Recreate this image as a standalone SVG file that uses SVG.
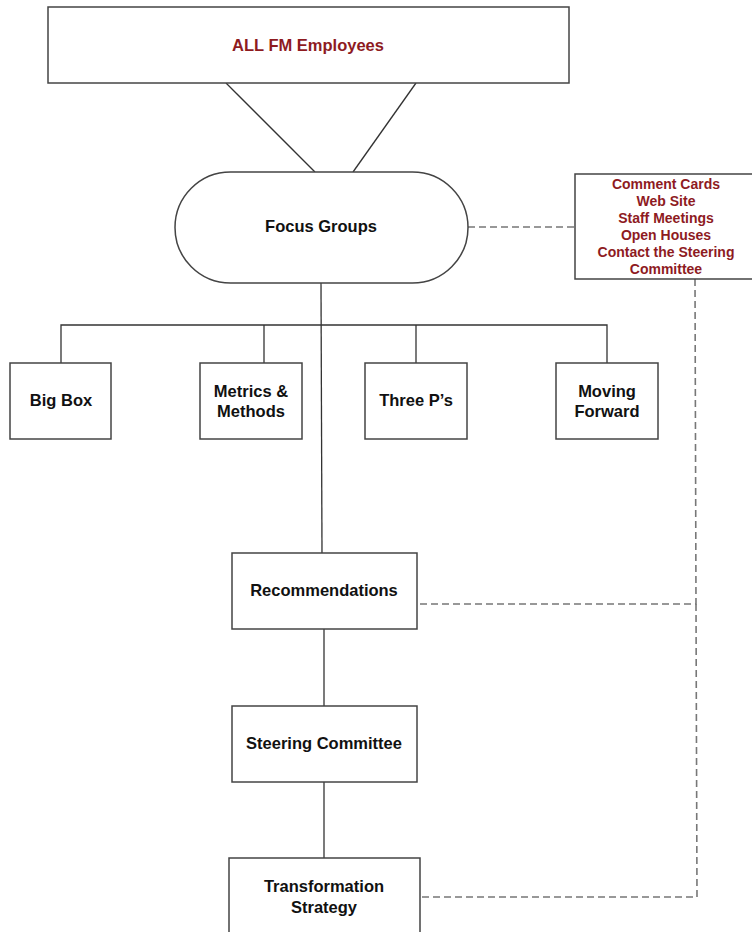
<svg xmlns="http://www.w3.org/2000/svg" width="752" height="932" viewBox="0 0 752 932">
<style>
.box{fill:#fff;stroke:#444;stroke-width:1.5}
.ln{fill:none;stroke:#333;stroke-width:1.3}
.dash{fill:none;stroke:#777;stroke-width:1.6;stroke-dasharray:7,4}
.lbl{font-family:"Liberation Sans",Arial,sans-serif;font-weight:bold;font-size:16.5px;fill:#111;text-anchor:middle}
.red{font-family:"Liberation Sans",Arial,sans-serif;font-weight:bold;font-size:14px;fill:#8e1b1f;text-anchor:middle}
</style>
<rect width="752" height="932" fill="#fff"/>
<g id="connectors">
<line class="ln" x1="226" y1="83" x2="315" y2="172"/>
<line class="ln" x1="416" y1="83" x2="353" y2="172"/>
<line class="ln" x1="321" y1="283" x2="322" y2="553"/>
<polyline class="ln" points="61,363 61,325 607,325 607,363"/>
<line class="ln" x1="264" y1="325" x2="264" y2="363"/>
<line class="ln" x1="416" y1="325" x2="416" y2="363"/>
<line class="ln" x1="324" y1="629" x2="324" y2="706"/>
<line class="ln" x1="324" y1="782" x2="324" y2="858"/>
<line class="dash" x1="468" y1="227" x2="575" y2="227"/>
<polyline class="dash" points="695,279 696,604 417,604"/>
<polyline class="dash" points="696,604 697,897 420,897"/>
</g>
<g id="all-fm">
<rect class="box" x="48" y="7" width="521" height="76"/>
<text class="red" style="font-size:16.5px" x="308" y="51">ALL FM Employees</text>
</g>
<g id="focus-groups">
<rect class="box" x="175" y="172" width="293" height="111" rx="55.5" ry="55.5"/>
<text class="lbl" x="321" y="232">Focus Groups</text>
</g>
<g id="channels">
<path class="box" d="M753,174 H575 V279 H753"/>
<text class="red" x="666" y="189">Comment Cards</text>
<text class="red" x="666" y="206">Web Site</text>
<text class="red" x="666" y="223">Staff Meetings</text>
<text class="red" x="666" y="240">Open Houses</text>
<text class="red" x="666" y="257">Contact the Steering</text>
<text class="red" x="666" y="274">Committee</text>
</g>
<g id="big-box">
<rect class="box" x="10" y="363" width="101" height="76"/>
<text class="lbl" x="61" y="406">Big Box</text>
</g>
<g id="metrics">
<rect class="box" x="200" y="363" width="102" height="76"/>
<text class="lbl" x="251" y="397">Metrics &amp;</text>
<text class="lbl" x="251" y="417">Methods</text>
</g>
<g id="three-ps">
<rect class="box" x="365" y="363" width="102" height="76"/>
<text class="lbl" x="416" y="406">Three P’s</text>
</g>
<g id="moving-forward">
<rect class="box" x="556" y="363" width="102" height="76"/>
<text class="lbl" x="607" y="397">Moving</text>
<text class="lbl" x="607" y="417">Forward</text>
</g>
<g id="recommendations">
<rect class="box" x="232" y="553" width="185" height="76"/>
<text class="lbl" x="324" y="596">Recommendations</text>
</g>
<g id="steering">
<rect class="box" x="232" y="706" width="185" height="76"/>
<text class="lbl" x="324" y="749">Steering Committee</text>
</g>
<g id="transformation">
<path class="box" d="M229,940 V858 H420 V940"/>
<text class="lbl" x="324" y="892">Transformation</text>
<text class="lbl" x="324" y="913">Strategy</text>
</g>
</svg>
